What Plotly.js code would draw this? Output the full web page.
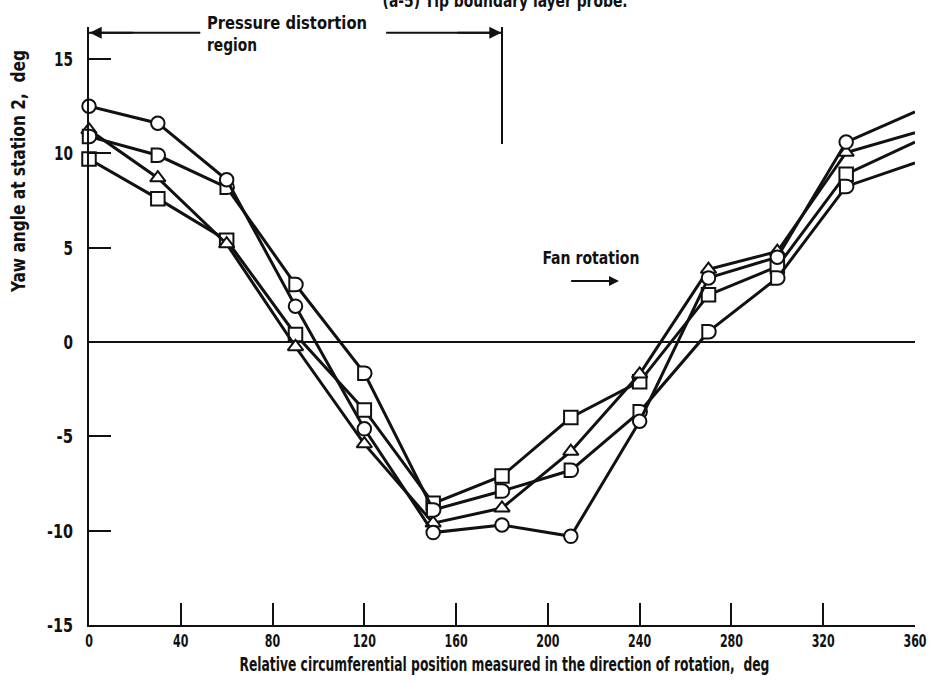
<!DOCTYPE html>
<html>
<head>
<meta charset="utf-8">
<script src="https://cdn.plot.ly/plotly-3.0.1.min.js"></script>
<style>
  html, body { margin: 0; padding: 0; background: #ffffff; }
  #chart { width: 932px; height: 683px; }
</style>
</head>
<body>
<div id="chart"></div>
<script>
// Relative circumferential position, deg
const angle = [0, 30, 60, 90, 120, 150, 180, 210, 240, 270, 300, 330, 360];
// Yaw angle at station 2, deg (four probe series)
const circleYaw   = [12.5, 11.6, 8.6, 1.9, -4.6, -10.1, -9.7, -10.3, -4.2, 3.4, 4.5, 10.6, 12.2];
const dYaw        = [10.9, 9.9, 8.2, 3.05, -1.65, -8.9, -7.9, -6.8, -3.7, 0.55, 3.4, 8.25, 9.5];
const triangleYaw = [11.25, 8.7, 5.2, -0.25, -5.4, -9.6, -8.8, -5.8, -1.7, 3.85, 4.8, 10.05, 11.1];
const squareYaw   = [9.7, 7.6, 5.4, 0.4, -3.6, -8.55, -7.1, -4.0, -2.1, 2.5, 4.0, 8.9, 10.6];

const xTicks = [0, 40, 80, 120, 160, 200, 240, 280, 320, 360];
const yTicks = [-15, -10, -5, 0, 5, 10, 15];

const FONT = "'DejaVu Sans Condensed', 'Liberation Sans Narrow', 'DejaVu Sans', sans-serif";
const INK = '#111111';

// no marker at the 360 deg end (line continuation only)
const sizes = angle.map(a => a < 360 ? 13.5 : 0);

function series(y, symbol) {
  return {
    x: angle, y: y, type: 'scatter', mode: 'lines+markers',
    line: {color: INK, width: 3},
    marker: {symbol: symbol, size: sizes, color: '#ffffff', opacity: 1,
             line: {color: INK, width: 2}},
    cliponaxis: false, showlegend: false, hoverinfo: 'skip'
  };
}

const data = [
  series(squareYaw, 'square'),
  series(triangleYaw, 'triangle-up'),
  series(dYaw, 'circle'),      // reshaped to a "D" symbol after drawing
  series(circleYaw, 'circle')
];

const layout = {
  width: 932, height: 683,
  margin: {l: 89, r: 17, t: 27, b: 58},
  paper_bgcolor: '#ffffff', plot_bgcolor: '#ffffff',
  font: {family: FONT, size: 18, color: INK, weight: 'bold'},
  showlegend: false,
  xaxis: {
    range: [0, 360], tickvals: xTicks, ticktext: xTicks.map(String),
    ticks: 'inside', ticklen: 22, tickwidth: 2, tickcolor: INK,
    showline: true, linecolor: INK, linewidth: 2,
    showgrid: false, zeroline: false,
    tickfont: {family: FONT, size: 17, color: INK, weight: 'bold'}
  },
  yaxis: {
    range: [-15, 16.7], tickvals: yTicks, ticktext: yTicks.map(String),
    ticks: 'inside', ticklen: 22, tickwidth: 2, tickcolor: INK,
    showline: true, linecolor: INK, linewidth: 2,
    showgrid: false, zeroline: true, zerolinecolor: INK, zerolinewidth: 1.5,
    ticklabelstandoff: 10,
    tickfont: {family: FONT, size: 20, color: INK, weight: 'bold'}
  },
  shapes: [
    {type: 'line', xref: 'x', yref: 'y', x0: 180, x1: 180, y0: 10.5, y1: 16.7,
     line: {color: INK, width: 2}},
    {type: 'line', xref: 'x', yref: 'y', x0: 0, x1: 48.5, y0: 16.4, y1: 16.4,
     line: {color: INK, width: 2}},
    {type: 'line', xref: 'x', yref: 'y', x0: 129.5, x1: 180, y0: 16.4, y1: 16.4,
     line: {color: INK, width: 2}}
  ],
  annotations: [
    {text: '(a-5) Tip boundary layer probe.', xref: 'paper', yref: 'paper',
     x: 0.504, y: 1.044, xanchor: 'center', yanchor: 'middle', showarrow: false,
     font: {family: FONT, size: 18, color: INK, weight: 'bold'}},
    {text: 'Pressure distortion', xref: 'paper', yref: 'paper', x: 0.1404, y: 1.0067,
     xanchor: 'left', yanchor: 'middle', align: 'left', showarrow: false,
     font: {family: FONT, size: 18, color: INK, weight: 'bold'}},
    {text: 'region', xref: 'paper', yref: 'paper', x: 0.1404, y: 0.970,
     xanchor: 'left', yanchor: 'middle', align: 'left', showarrow: false,
     font: {family: FONT, size: 18, color: INK, weight: 'bold'}},
    {text: '', xref: 'x', yref: 'y', x: 0.3, y: 16.4, axref: 'x', ayref: 'y', ax: 20, ay: 16.4,
     showarrow: true, arrowhead: 2, arrowsize: 1.2, arrowwidth: 2, arrowcolor: INK},
    {text: '', xref: 'x', yref: 'y', x: 179.7, y: 16.4, axref: 'x', ayref: 'y', ax: 160, ay: 16.4,
     showarrow: true, arrowhead: 2, arrowsize: 1.2, arrowwidth: 2, arrowcolor: INK},
    {text: 'Fan rotation', xref: 'x', yref: 'y', x: 219, y: 4.5,
     xanchor: 'center', yanchor: 'middle', showarrow: false,
     font: {family: FONT, size: 18, color: INK, weight: 'bold'}},
    {text: '', xref: 'x', yref: 'y', x: 231, y: 3.23, axref: 'x', ayref: 'y', ax: 209.5, ay: 3.23,
     showarrow: true, arrowhead: 2, arrowsize: 1, arrowwidth: 2, arrowcolor: INK},
    {text: 'Yaw angle at station 2,  deg', xref: 'paper', yref: 'paper',
     x: -0.086, y: 0.758, xanchor: 'center', yanchor: 'middle', textangle: -90, showarrow: false,
     font: {family: FONT, size: 20, color: INK, weight: 'bold'}},
    {text: 'Relative circumferential position measured in the direction of rotation,  deg',
     xref: 'paper', yref: 'paper', x: 0.503, y: -0.0645, xanchor: 'center', yanchor: 'middle',
     showarrow: false, font: {family: FONT, size: 19, color: INK, weight: 'bold'}}
  ]
};

// condensed lettering like the original drawing: compress text to measured widths
function squeeze(el, target) {
  if (!el || typeof el.getComputedTextLength !== 'function') return;
  const len = el.getComputedTextLength();
  if (len > 0 && target > 0) {
    el.setAttribute('textLength', target.toFixed(1));
    el.setAttribute('lengthAdjust', 'spacingAndGlyphs');
  }
}
function labelWidth(s, digitW, minusW) {
  let w = 0;
  for (const ch of s) w += (/[0-9]/.test(ch) ? digitW : minusW);
  return w;
}

Plotly.newPlot('chart', data, layout, {staticPlot: true, displayModeBar: false}).then(gd => {
  // D-shaped open marker for the third series
  const traces = gd.querySelectorAll('.scatterlayer .trace');
  const dGroup = traces[2];
  if (dGroup) {
    const Dpath = 'M-6.2,-6.75H0.5A6.75,6.75 0 0 1 0.5,6.75H-6.2Z';
    dGroup.querySelectorAll('.points path').forEach(p => {
      const d = p.__data__;
      const idx = d && typeof d.i === 'number' ? d.i : -1;
      if (idx >= 0 && angle[idx] < 360) p.setAttribute('d', Dpath);
    });
  }
  // tick labels
  gd.querySelectorAll('.xtick text').forEach(t => squeeze(t, labelWidth(t.textContent, 7.7, 6)));
  gd.querySelectorAll('.ytick text').forEach(t => squeeze(t, labelWidth(t.textContent, 9.5, 7)));
  // annotation texts, widths measured on the reference
  const targets = {
    '(a-5) Tip boundary layer probe.': 245,
    'Pressure distortion': 160,
    'region': 50,
    'Fan rotation': 97,
    'Yaw angle at station 2,  deg': 242,
    'Relative circumferential position measured in the direction of rotation,  deg': 530
  };
  gd.querySelectorAll('.annotation-text').forEach(t => {
    const key = t.textContent.replace(/\u00a0/g, ' ').replace(/\s+/g, ' ');
    for (const k in targets) {
      if (key === k.replace(/\s+/g, ' ')) squeeze(t, targets[k]);
    }
  });
});
</script>
</body>
</html>
